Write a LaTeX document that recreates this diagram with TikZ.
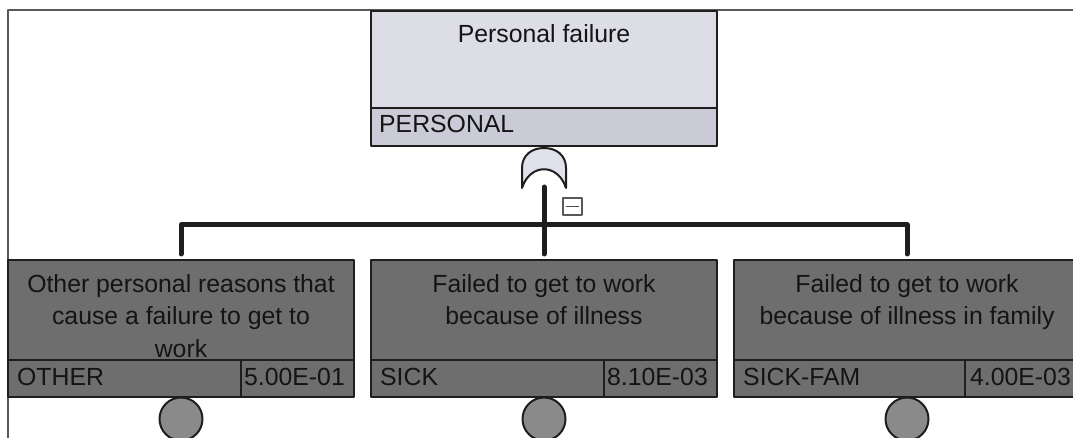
\documentclass[tikz,border=0pt]{standalone}
\usepackage{fontspec}
\setmainfont{Liberation Sans}
\definecolor{topfill}{HTML}{DCDDE5}
\definecolor{topidfill}{HTML}{CACBD6}
\definecolor{gatefill}{HTML}{E0E1EA}
\definecolor{basicfill}{HTML}{6E6E6E}
\definecolor{circfill}{HTML}{8A8A8A}
\definecolor{edge}{HTML}{1E1E1E}
\tikzset{
  txt/.style={anchor=base, inner sep=0pt, font=\fontsize{24.8}{32.5}\selectfont, text=black!92},
  frame/.style={draw=edge, line width=2pt},
  bar/.style={line width=5pt, draw=edge, line cap=round, line join=round},
  basic/.style={circle, draw=edge, fill=circfill, line width=2pt, minimum size=43pt, inner sep=0pt},
}

\begin{document}
\begin{tikzpicture}[x=1pt, y=-1pt, line cap=round, line join=round]
    \useasboundingbox (0,0) rectangle (1073,438);
    \begin{scope}
    \clip (0,0) rectangle (1073,438);

    % page frame
    \draw[gray!70!black, line width=1.3pt] (1073,10) -- (8,10) -- (8,438);

    % top event with or gate
    \begin{scope}[shift={(544,0)}]
      \def\W{173}
      \fill[topfill] (-\W,11) rectangle (\W,108);
      \fill[topidfill] (-\W,108) rectangle (\W,146);
      \draw[frame] (-\W,11) rectangle (\W,146);
      \draw[frame] (-\W,108) -- (\W,108);

      \node[txt] (personal-txt) at (0,43) {Personal failure};
      \node[txt, anchor=base west] (personal-id) at (-\W+8,133) {PERSONAL};

      % or gate
      \filldraw[fill=gatefill, draw=edge, line width=2pt]
        (-22,188) -- (-22,168) .. controls (-22,155) and (-12,148) .. (0,148)
        .. controls (12,148) and (22,155) .. (22,168) -- (22,188)
        .. controls (14,163) and (-14,163) .. cycle;

      \coordinate (gout) at (0,187);
      \coordinate (junction) at (0,225);

      \node[draw=gray!70!black, line width=1.2pt, minimum width=19pt, minimum height=17pt, inner sep=0pt] (collapse) at (28.5,206.5) {};
      \draw[gray!60!black, line width=1.5pt] ([xshift=4pt]collapse.west) -- ([xshift=-4pt]collapse.east);
    \end{scope}

    % left basic event
    \begin{scope}[shift={(181,0)}]
      \fill[basicfill] (-173,260) rectangle (173,397);
      \draw[frame] (-173,260) rectangle (173,397);
      \draw[frame] (-173,360) -- (173,360);
      \draw[frame] (60,360) -- (60,397);

      \node[txt] (other-txt) at (0,292) {\parbox[t]{340pt}{\centering Other personal reasons that\\cause a failure to get to\\work}};
      \node[txt, anchor=base west] (other-id) at (-164,385) {OTHER};
      \node[txt, anchor=base east] (other-p) at (164,385) {5.00E-01};

      \coordinate (other-in) at (0,254);
      \node[basic] (other-ev) at (0,419) {};
    \end{scope}

    % middle basic event
    \begin{scope}[shift={(544,0)}]
      \fill[basicfill] (-173,260) rectangle (173,397);
      \draw[frame] (-173,260) rectangle (173,397);
      \draw[frame] (-173,360) -- (173,360);
      \draw[frame] (60,360) -- (60,397);

      \node[txt] (sick-txt) at (0,292) {\parbox[t]{340pt}{\centering Failed to get to work\\because of illness}};
      \node[txt, anchor=base west] (sick-id) at (-164,385) {SICK};
      \node[txt, anchor=base east] (sick-p) at (164,385) {8.10E-03};

      \coordinate (sick-in) at (0,254);
      \node[basic] (sick-ev) at (0,419) {};
    \end{scope}

    % right basic event
    \begin{scope}[shift={(907,0)}]
      \fill[basicfill] (-173,260) rectangle (173,397);
      \draw[frame] (-173,260) rectangle (173,397);
      \draw[frame] (-173,360) -- (173,360);
      \draw[frame] (58,360) -- (58,397);

      \node[txt] (fam-txt) at (0,292) {\parbox[t]{340pt}{\centering Failed to get to work\\because of illness in family}};
      \node[txt, anchor=base west] (fam-id) at (-164,385) {SICK-FAM};
      \node[txt, anchor=base east] (fam-p) at (164,385) {4.00E-03};

      \coordinate (fam-in) at (0,254);
      \node[basic] (fam-ev) at (0,419) {};
    \end{scope}

    % connectors
    \draw[bar] (gout) -- (sick-in);
    \draw[bar] (other-in) |- (junction) -| (fam-in);
    \end{scope}
\end{tikzpicture}
\end{document}
